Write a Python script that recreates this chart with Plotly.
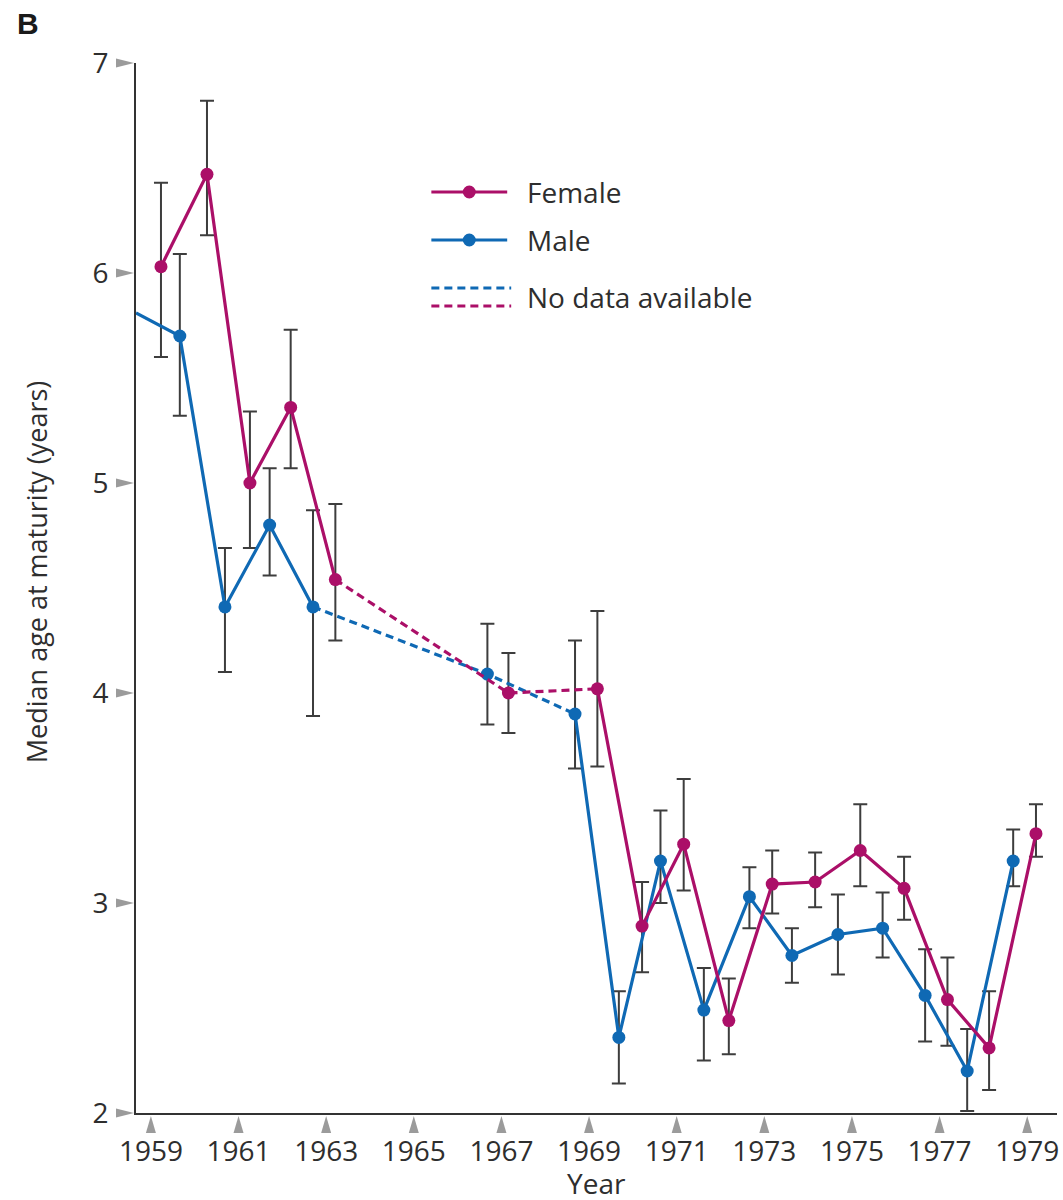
import plotly.graph_objects as go

# ---------------- data ----------------
female_year = [1959.23, 1960.28, 1961.26, 1962.19, 1963.21, 1967.16, 1969.19, 1970.21,
               1971.16, 1972.19, 1973.18, 1974.16, 1975.19, 1976.19, 1977.18, 1978.13, 1979.20]
female_median = [6.03, 6.47, 5.00, 5.36, 4.54, 4.00, 4.02, 2.89,
                 3.28, 2.44, 3.09, 3.10, 3.25, 3.07, 2.54, 2.31, 3.33]
female_upper = [6.43, 6.82, 5.34, 5.73, 4.90, 4.19, 4.39, 3.10,
                3.59, 2.64, 3.25, 3.24, 3.47, 3.22, 2.74, 2.58, 3.47]
female_lower = [5.60, 6.18, 4.69, 5.07, 4.25, 3.81, 3.65, 2.67,
                3.06, 2.28, 2.95, 2.98, 3.08, 2.92, 2.32, 2.11, 3.22]

male_year = [1959.66, 1960.69, 1961.71, 1962.70, 1966.68, 1968.68, 1969.68, 1970.63,
             1971.62, 1972.66, 1973.63, 1974.68, 1975.70, 1976.67, 1977.63, 1978.68]
male_median = [5.70, 4.41, 4.80, 4.41, 4.09, 3.90, 2.36, 3.20,
               2.49, 3.03, 2.75, 2.85, 2.88, 2.56, 2.20, 3.20]
male_upper = [6.09, 4.69, 5.07, 4.87, 4.33, 4.25, 2.58, 3.44,
              2.69, 3.17, 2.88, 3.04, 3.05, 2.78, 2.40, 3.35]
male_lower = [5.32, 4.10, 4.56, 3.89, 3.85, 3.64, 2.14, 3.00,
              2.25, 2.88, 2.62, 2.66, 2.74, 2.34, 2.01, 3.08]
# line entering from the left edge (earlier year, no marker shown)
male_lead_year = 1958.66
male_lead_median = 5.81

# index ranges (inclusive) joined by "no data available" dashed lines
female_gap = (4, 6)
male_gap = (3, 5)

x_ticks = [1959, 1961, 1963, 1965, 1967, 1969, 1971, 1973, 1975, 1977, 1979]
y_ticks = [2, 3, 4, 5, 6, 7]
x_range = [1958.66, 1979.68]
y_range = [2, 7]

legend_labels = ["Female", "Male", "No data available"]

# ---------------- styling ----------------
MAGENTA = "#AB0F68"
BLUE = "#0F69B4"
ERR = "#3d3d3d"
TICKGRAY = "#9b9b9b"
TXT = "#2e2e2e"
FONT = "Open Sans"
FS = 28

W, H = 1063, 1200
L, R, T, B = 136, 1059, 63, 1113
PW, PH = R - L, B - T


def px_x(px):
    return (px - L) / PW


def px_y(py):
    return (B - py) / PH


def solid_part(vals, gap):
    return [None if gap[0] < i < gap[1] else v for i, v in enumerate(vals)]


fig = go.Figure()

# error bars (drawn first, behind lines)
for xs, ys, up, lo in [(male_year, male_median, male_upper, male_lower),
                       (female_year, female_median, female_upper, female_lower)]:
    fig.add_trace(go.Scatter(
        x=xs, y=ys, mode="markers",
        marker=dict(size=1, color="rgba(0,0,0,0)"),
        error_y=dict(type="data", symmetric=False,
                     array=[u - m for u, m in zip(up, ys)],
                     arrayminus=[m - l for m, l in zip(ys, lo)],
                     color=ERR, thickness=2, width=7),
        showlegend=False, hoverinfo="skip"))

# male lines
mx = [male_lead_year] + male_year
my = [male_lead_median] + male_median
mgap = (male_gap[0] + 1, male_gap[1] + 1)
fig.add_trace(go.Scatter(x=mx, y=solid_part(my, mgap), mode="lines",
                         line=dict(color=BLUE, width=3.2), connectgaps=False,
                         showlegend=False, hoverinfo="skip"))
fig.add_trace(go.Scatter(x=male_year[male_gap[0]:male_gap[1] + 1],
                         y=male_median[male_gap[0]:male_gap[1] + 1], mode="lines",
                         line=dict(color=BLUE, width=3.2, dash="8px,5px"),
                         showlegend=False, hoverinfo="skip"))
fig.add_trace(go.Scatter(x=male_year, y=male_median, mode="markers",
                         marker=dict(color=BLUE, size=13), showlegend=False))

# female lines
fig.add_trace(go.Scatter(x=female_year, y=solid_part(female_median, female_gap), mode="lines",
                         line=dict(color=MAGENTA, width=3.2), connectgaps=False,
                         showlegend=False, hoverinfo="skip"))
fig.add_trace(go.Scatter(x=female_year[female_gap[0]:female_gap[1] + 1],
                         y=female_median[female_gap[0]:female_gap[1] + 1], mode="lines",
                         line=dict(color=MAGENTA, width=3.2, dash="8px,5px"),
                         showlegend=False, hoverinfo="skip"))
fig.add_trace(go.Scatter(x=female_year, y=female_median, mode="markers",
                         marker=dict(color=MAGENTA, size=13), showlegend=False))

shapes = []
annotations = []

# triangular tick marks (pixel-sized shapes anchored at tick positions)
for v in x_ticks:
    frac = (v - x_range[0]) / (x_range[1] - x_range[0])
    shapes.append(dict(type="path", xref="paper", yref="paper",
                       xsizemode="pixel", ysizemode="pixel", xanchor=frac, yanchor=0,
                       path="M-5,-20 L5,-20 L0,-3 Z",
                       fillcolor=TICKGRAY, line=dict(width=0)))
for v in y_ticks:
    frac = (v - y_range[0]) / (y_range[1] - y_range[0])
    shapes.append(dict(type="path", xref="paper", yref="paper",
                       xsizemode="pixel", ysizemode="pixel", xanchor=0, yanchor=frac,
                       path="M-20,-4.5 L-20,4.5 L-2,0 Z",
                       fillcolor=TICKGRAY, line=dict(width=0)))

# ---------------- manual legend ----------------
leg_x0, leg_x1, leg_text_x = 432, 508, 526
rows = [(192, MAGENTA), (240, BLUE)]
for (py, col), lab in zip(rows, legend_labels[:2]):
    shapes.append(dict(type="line", xref="paper", yref="paper",
                       x0=px_x(leg_x0), x1=px_x(leg_x1), y0=px_y(py), y1=px_y(py),
                       line=dict(color=col, width=3.2)))
    cx = (leg_x0 + leg_x1) / 2
    shapes.append(dict(type="circle", xref="paper", yref="paper",
                       x0=px_x(cx - 6.5), x1=px_x(cx + 6.5),
                       y0=px_y(py + 6.5), y1=px_y(py - 6.5),
                       fillcolor=col, line=dict(width=0)))
    annotations.append(dict(text=lab, xref="paper", yref="paper",
                            x=px_x(leg_text_x), y=px_y(py), xanchor="left", yanchor="middle",
                            showarrow=False, font=dict(family=FONT, size=FS, color=TXT)))
for py, col in [(288, BLUE), (306, MAGENTA)]:
    shapes.append(dict(type="line", xref="paper", yref="paper",
                       x0=px_x(leg_x0), x1=px_x(leg_x1 + 4), y0=px_y(py), y1=px_y(py),
                       line=dict(color=col, width=3, dash="8px,5px")))
annotations.append(dict(text=legend_labels[2], xref="paper", yref="paper",
                        x=px_x(leg_text_x), y=px_y(297), xanchor="left", yanchor="middle",
                        showarrow=False, font=dict(family=FONT, size=FS, color=TXT)))

# panel letter and axis titles
annotations.append(dict(text="<b>B</b>", xref="paper", yref="paper",
                        x=px_x(15), y=px_y(5), xanchor="left", yanchor="top",
                        showarrow=False, font=dict(family="Liberation Sans", size=30, color="#1a1a1a")))
annotations.append(dict(text="Year", xref="paper", yref="paper",
                        x=px_x(597), y=px_y(1183), xanchor="center", yanchor="middle",
                        showarrow=False, font=dict(family=FONT, size=FS, color=TXT)))
annotations.append(dict(text="Median age at maturity (years)", xref="paper", yref="paper",
                        x=px_x(36), y=px_y(572), xanchor="center", yanchor="middle",
                        textangle=-90, showarrow=False,
                        font=dict(family=FONT, size=27, color=TXT)))

axis_common = dict(showgrid=False, zeroline=False, showline=True, linecolor="#333333",
                   linewidth=2, ticks="", tickfont=dict(family=FONT, size=FS, color=TXT))

fig.update_layout(
    width=W, height=H,
    margin=dict(l=L, r=W - R, t=T, b=H - B, pad=0),
    paper_bgcolor="white", plot_bgcolor="white",
    showlegend=False,
    xaxis=dict(range=x_range, tickvals=x_ticks, ticktext=[str(v) for v in x_ticks],
               ticklabelstandoff=12, **axis_common),
    yaxis=dict(range=y_range, tickvals=y_ticks, ticktext=[str(v) for v in y_ticks],
               ticklabelstandoff=20, **axis_common),
    shapes=shapes, annotations=annotations,
)

fig.write_html("out.html", config={"displayModeBar": False},
               post_script="document.body.style.margin='0';document.body.style.overflow='hidden';")
